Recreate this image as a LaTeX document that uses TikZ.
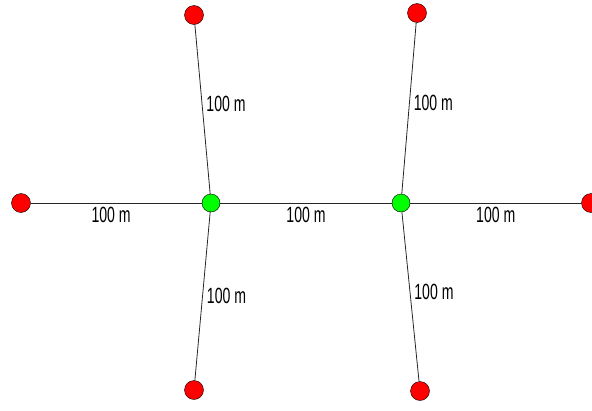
\documentclass[tikz,border=0pt]{standalone}
\usepackage{fontspec}
\setmainfont{Liberation Sans}
\newfontfamily\narrowfont[FakeStretch=0.64]{Liberation Sans}
\usetikzlibrary{positioning}

\begin{document}
\begin{tikzpicture}[x=1pt, y=-1pt,
    leaf/.style={circle, draw=black, fill=red, minimum size=19pt, inner sep=0pt},
    hub/.style={circle, draw=black, fill=green, minimum size=18pt, inner sep=0pt},
    wire/.style={draw=black!85, line width=0.8pt},
    dist/.style={font=\narrowfont\fontsize{22}{24}\selectfont, inner sep=4pt}]
    \useasboundingbox (0,0) rectangle (592,410);

    % Hubs
    \node [hub] (h1) at (211,203) {};
    \node [hub] (h2) at (401,203) {};

    % Leaves
    \node [leaf] (tl) at (194,15) {};
    \node [leaf] (tr) at (417,13) {};
    \node [leaf] (lf) at (21,203) {};
    \node [leaf] (rt) at (591,203) {};
    \node [leaf] (bl) at (194,390) {};
    \node [leaf] (br) at (420,391) {};

    % Cables
    \draw [wire] (h1) -- node[dist, right, pos=0.53] {100 m} (tl);
    \draw [wire] (h1) -- node[dist, below, pos=0.53] {100 m} (lf);
    \draw [wire] (h1) -- node[dist, below] {100 m} (h2);
    \draw [wire] (h1) -- node[dist, right, pos=0.50] {100 m} (bl);
    \draw [wire] (h2) -- node[dist, right, pos=0.53] {100 m} (tr);
    \draw [wire] (h2) -- node[dist, below] {100 m} (rt);
    \draw [wire] (h2) -- node[dist, right, pos=0.47] {100 m} (br);
\end{tikzpicture}
\end{document}
